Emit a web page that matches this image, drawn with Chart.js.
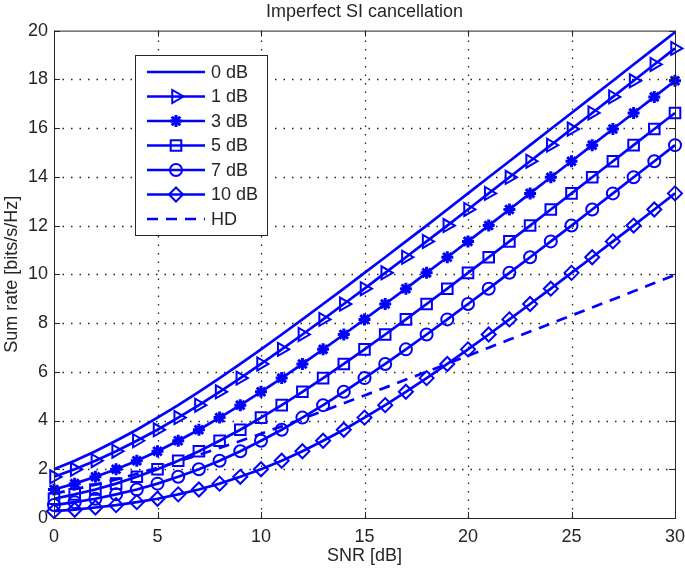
<!DOCTYPE html>
<html>
<head>
<meta charset="utf-8">
<title>Imperfect SI cancellation</title>
<script src="https://cdn.jsdelivr.net/npm/chart.js@4.4.0/dist/chart.umd.min.js"></script>
<style>
  html, body { margin: 0; padding: 0; background: #fff; }
  #wrap { width: 685px; height: 569px; }
</style>
</head>
<body>
<div id="wrap"><canvas id="sumRateChart"></canvas></div>
<script>
// SNR [dB] on the x axis
const snrDb = [0, 1, 2, 3, 4, 5, 6, 7, 8, 9, 10, 11, 12, 13, 14, 15, 16, 17, 18, 19, 20,
  21, 22, 23, 24, 25, 26, 27, 28, 29, 30];

// sum rate [bits/s/Hz]
const si0dB = [2.00, 2.35, 2.74, 3.17, 3.62, 4.12, 4.63, 5.18, 5.74, 6.32, 6.92, 7.53, 8.15, 8.78, 9.41,
  10.06, 10.70, 11.35, 12.00, 12.66, 13.32, 13.98, 14.64, 15.30, 15.96, 16.62, 17.28, 17.94, 18.61, 19.27, 19.93];
const si1dB = [1.69, 2.00, 2.35, 2.74, 3.17, 3.62, 4.12, 4.63, 5.18, 5.74, 6.32, 6.92, 7.53, 8.15, 8.78,
  9.41, 10.06, 10.70, 11.35, 12.00, 12.66, 13.32, 13.98, 14.64, 15.30, 15.96, 16.62, 17.28, 17.94, 18.61, 19.27];
const si3dB = [1.17, 1.41, 1.69, 2.00, 2.35, 2.74, 3.17, 3.62, 4.12, 4.63, 5.18, 5.74, 6.32, 6.92, 7.53,
  8.15, 8.78, 9.41, 10.06, 10.70, 11.35, 12.00, 12.66, 13.32, 13.98, 14.64, 15.30, 15.96, 16.62, 17.28, 17.94];
const si5dB = [0.79, 0.97, 1.17, 1.41, 1.69, 2.00, 2.35, 2.74, 3.17, 3.62, 4.12, 4.63, 5.18, 5.74, 6.32,
  6.92, 7.53, 8.15, 8.78, 9.41, 10.06, 10.70, 11.35, 12.00, 12.66, 13.32, 13.98, 14.64, 15.30, 15.96, 16.62];
const si7dB = [0.53, 0.65, 0.79, 0.97, 1.17, 1.41, 1.69, 2.00, 2.35, 2.74, 3.17, 3.62, 4.12, 4.63, 5.18,
  5.74, 6.32, 6.92, 7.53, 8.15, 8.78, 9.41, 10.06, 10.70, 11.35, 12.00, 12.66, 13.32, 13.98, 14.64, 15.30];
const si10dB = [0.28, 0.34, 0.43, 0.53, 0.65, 0.79, 0.97, 1.17, 1.41, 1.69, 2.00, 2.35, 2.74, 3.17, 3.62,
  4.12, 4.63, 5.18, 5.74, 6.32, 6.92, 7.53, 8.15, 8.78, 9.41, 10.06, 10.70, 11.35, 12.00, 12.66, 13.32];
const halfDuplex = [1.00, 1.18, 1.37, 1.58, 1.81, 2.06, 2.32, 2.59, 2.87, 3.16, 3.46, 3.76, 4.07, 4.39, 4.71,
  5.03, 5.35, 5.68, 6.00, 6.33, 6.66, 6.99, 7.32, 7.65, 7.98, 8.31, 8.64, 8.97, 9.30, 9.64, 9.97];

const seriesLabels = ["0 dB", "1 dB", "3 dB", "5 dB", "7 dB", "10 dB", "HD"];

const BLUE = "#0000ff";
const TEXT = "#262626";
const FONT = "'Liberation Sans', Arial, Helvetica, sans-serif";

function toPoints(values) {
  return values.map((v, i) => ({ x: snrDb[i], y: v }));
}

function lineSet(label, values, marker) {
  return Object.assign(
    {
      label: label,
      data: toPoints(values),
      borderColor: BLUE,
      backgroundColor: BLUE,
      borderWidth: 2.7,
      tension: 0,
      clip: false,
      pointRadius: 0,
      pointBorderColor: BLUE,
      pointBackgroundColor: "rgba(0,0,0,0)",
      pointBorderWidth: 2,
    },
    marker || {}
  );
}

// dotted grid, drawn under the lines
const dottedGrid = {
  id: "dottedGrid",
  beforeDatasetsDraw(chart) {
    const { ctx, chartArea: a, scales } = chart;
    ctx.save();
    ctx.strokeStyle = "#222";
    ctx.lineWidth = 1.3;
    ctx.setLineDash([1.5, 7]);
    ctx.beginPath();
    scales.x.ticks.forEach((t) => {
      if (t.value <= scales.x.min || t.value >= scales.x.max) return;
      const px = Math.round(scales.x.getPixelForValue(t.value)) + 0.5;
      ctx.moveTo(px, a.bottom);
      ctx.lineTo(px, a.top);
    });
    scales.y.ticks.forEach((t) => {
      if (t.value <= scales.y.min || t.value >= scales.y.max) return;
      const py = Math.round(scales.y.getPixelForValue(t.value)) + 0.5;
      ctx.moveTo(a.left, py);
      ctx.lineTo(a.right, py);
    });
    ctx.stroke();
    ctx.restore();
  },
};

// box round the axes and the small inward ticks (matlab style)
const axesBox = {
  id: "axesBox",
  afterDatasetsDraw(chart) {
    const { ctx, chartArea: a, scales } = chart;
    ctx.save();
    ctx.strokeStyle = "#262626";
    ctx.lineWidth = 1;
    ctx.setLineDash([]);
    ctx.strokeRect(a.left + 0.5, a.top + 0.5, a.right - a.left, a.bottom - a.top);
    const len = 6;
    ctx.beginPath();
    scales.x.ticks.forEach((t) => {
      const px = Math.round(scales.x.getPixelForValue(t.value)) + 0.5;
      ctx.moveTo(px, a.bottom);
      ctx.lineTo(px, a.bottom - len);
      ctx.moveTo(px, a.top);
      ctx.lineTo(px, a.top + len);
    });
    scales.y.ticks.forEach((t) => {
      const py = Math.round(scales.y.getPixelForValue(t.value)) + 0.5;
      ctx.moveTo(a.left, py);
      ctx.lineTo(a.left + len, py);
      ctx.moveTo(a.right, py);
      ctx.lineTo(a.right - len, py);
    });
    ctx.stroke();
    ctx.restore();
  },
};

// legend box inside the axes, upper left
const legendBox = { left: 135, top: 55, width: 132, height: 180, firstRow: 17, rowGap: 24.5, lineFrom: 12, lineTo: 70, textAt: 76 };

const insideLegend = {
  id: "insideLegend",
  afterDraw(chart) {
    const ctx = chart.ctx;
    const b = legendBox;
    ctx.save();
    ctx.fillStyle = "#fff";
    ctx.fillRect(b.left, b.top, b.width, b.height);
    ctx.strokeStyle = "#262626";
    ctx.lineWidth = 1;
    ctx.strokeRect(b.left + 0.5, b.top + 0.5, b.width, b.height);

    chart.data.datasets.forEach((ds, i) => {
      const y = b.top + b.firstRow + i * b.rowGap;
      const x0 = b.left + b.lineFrom;
      const x1 = b.left + b.lineTo;
      ctx.save();
      ctx.strokeStyle = ds.borderColor;
      ctx.lineWidth = ds.borderWidth;
      ctx.setLineDash(ds.borderDash || []);
      ctx.beginPath();
      ctx.moveTo(x0, y);
      ctx.lineTo(x1, y);
      ctx.stroke();
      ctx.restore();

      if (ds.pointRadius > 0) {
        ctx.save();
        ctx.strokeStyle = ds.pointBorderColor;
        ctx.fillStyle = ds.pointBackgroundColor;
        ctx.lineWidth = ds.pointBorderWidth;
        ctx.setLineDash([]);
        Chart.helpers.drawPoint(
          ctx,
          {
            pointStyle: ds.pointStyle,
            rotation: ds.pointRotation || 0,
            radius: ds.pointRadius,
            borderWidth: ds.pointBorderWidth,
          },
          (x0 + x1) / 2,
          y
        );
        ctx.restore();
      }

      ctx.fillStyle = TEXT;
      ctx.font = "18px " + FONT;
      ctx.textAlign = "left";
      ctx.textBaseline = "middle";
      ctx.fillText(ds.label, b.left + b.textAt, y + 1);
    });
    ctx.restore();
  },
};

const ctxRate = document.getElementById("sumRateChart").getContext("2d");

new Chart(ctxRate, {
  type: "line",
  data: {
    datasets: [
      lineSet(seriesLabels[0], si0dB),
      lineSet(seriesLabels[1], si1dB, { pointStyle: "triangle", pointRotation: 90, pointRadius: 7.5 }),
      lineSet(seriesLabels[2], si3dB, { pointStyle: "star", pointRadius: 6, pointBorderWidth: 3 }),
      lineSet(seriesLabels[3], si5dB, { pointStyle: "rect", pointRadius: 7.5 }),
      lineSet(seriesLabels[4], si7dB, { pointStyle: "circle", pointRadius: 6 }),
      lineSet(seriesLabels[5], si10dB, { pointStyle: "rectRot", pointRadius: 7 }),
      lineSet(seriesLabels[6], halfDuplex, { borderDash: [11, 8] }),
    ],
  },
  options: {
    responsive: true,
    maintainAspectRatio: false,
    animation: false,
    devicePixelRatio: 1,
    layout: { autoPadding: false, padding: { left: 0, right: 0, top: 0, bottom: 0 } },
    plugins: {
      legend: { display: false },
      tooltip: { enabled: false },
      title: {
        display: true,
        fullSize: false,
        text: "Imperfect SI cancellation",
        color: TEXT,
        font: { family: FONT, size: 18, weight: "normal", lineHeight: 1.2 },
        padding: { top: 1, bottom: 8 },
      },
    },
    scales: {
      x: {
        type: "linear",
        min: 0,
        max: 30,
        afterFit(scale) {
          scale.height = 51;
          scale.paddingLeft = 0;
          scale.paddingRight = 10;
        },
        ticks: {
          stepSize: 5,
          color: TEXT,
          padding: 8,
          font: { family: FONT, size: 18 },
        },
        grid: { display: false, drawTicks: false },
        border: { display: false },
        title: {
          display: true,
          text: "SNR [dB]",
          color: TEXT,
          font: { family: FONT, size: 18 },
          padding: { top: 0, bottom: 2 },
        },
      },
      y: {
        type: "linear",
        min: 0,
        max: 20,
        afterFit(scale) {
          scale.width = 54;
        },
        ticks: {
          stepSize: 2,
          color: TEXT,
          padding: 6,
          font: { family: FONT, size: 18 },
        },
        grid: { display: false, drawTicks: false },
        border: { display: false },
        title: {
          display: true,
          text: "Sum rate [bits/s/Hz]",
          color: TEXT,
          font: { family: FONT, size: 18 },
          padding: { top: 1, bottom: 0 },
        },
      },
    },
  },
  plugins: [dottedGrid, axesBox, insideLegend],
});
</script>
</body>
</html>
